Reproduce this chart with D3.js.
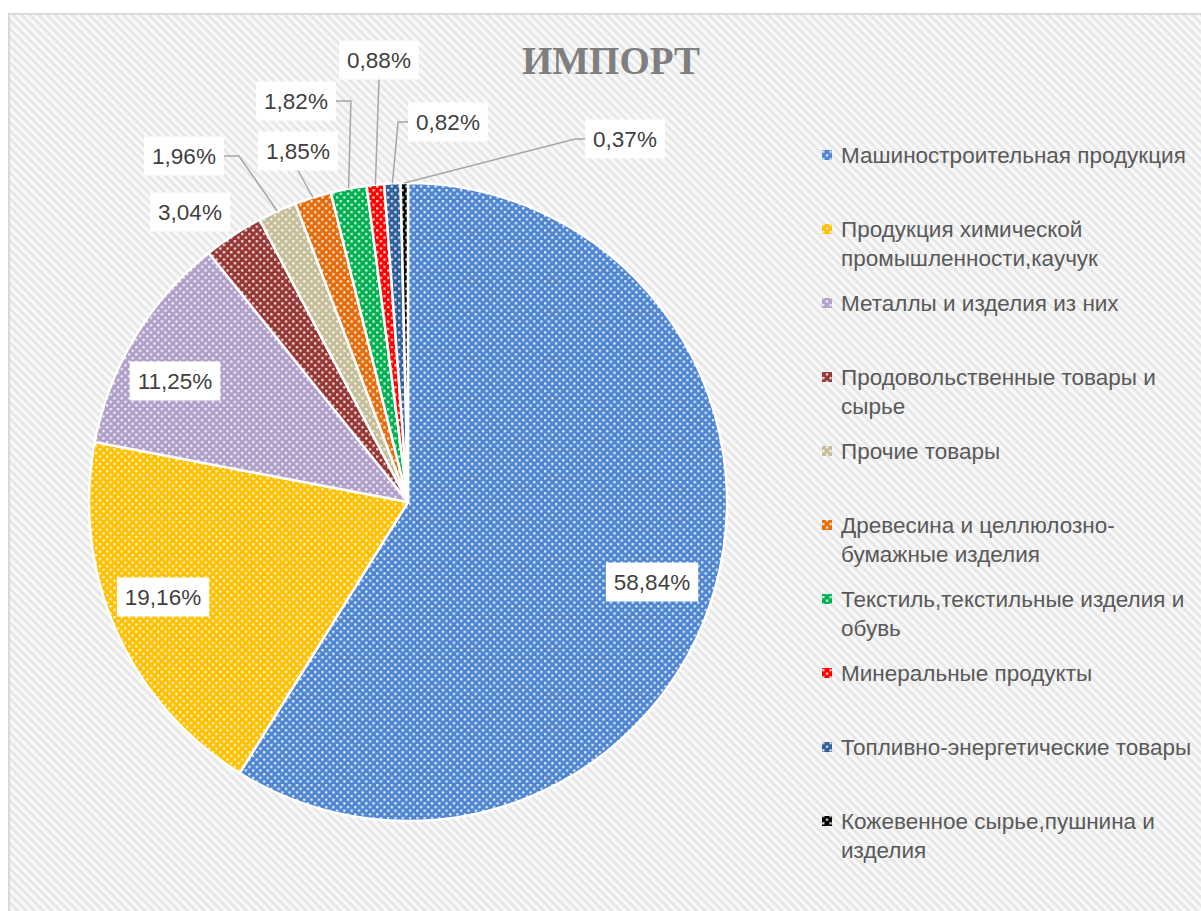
<!DOCTYPE html>
<html><head><meta charset="utf-8">
<script src="https://cdn.jsdelivr.net/npm/d3@7"></script>
<style>html,body{margin:0;padding:0;background:#fff;}svg{display:block;}</style>
</head><body>
<script>
// ---- data ----
const title = "ИМПОРТ";
const categories = [
  "Машиностроительная продукция",
  "Продукция химической промышленности,каучук",
  "Металлы и изделия из них",
  "Продовольственные товары и сырье",
  "Прочие товары",
  "Древесина и целлюлозно-бумажные изделия",
  "Текстиль,текстильные изделия и обувь",
  "Минеральные продукты",
  "Топливно-энергетические товары",
  "Кожевенное сырье,пушнина и изделия"
];
const values = [58.84, 19.16, 11.25, 3.04, 1.96, 1.85, 1.82, 0.88, 0.82, 0.37];
const valueLabels = ["58,84%","19,16%","11,25%","3,04%","1,96%","1,85%","1,82%","0,88%","0,82%","0,37%"];
// legend lines (wrapped as in the reference)
const legendLines = [
  ["Машиностроительная продукция"],
  ["Продукция химической", "промышленности,каучук"],
  ["Металлы и изделия из них"],
  ["Продовольственные товары и", "сырье"],
  ["Прочие товары"],
  ["Древесина и целлюлозно-", "бумажные изделия"],
  ["Текстиль,текстильные изделия и", "обувь"],
  ["Минеральные продукты"],
  ["Топливно-энергетические товары"],
  ["Кожевенное сырье,пушнина и", "изделия"]
];
const colors = ["#4f86d2","#ffc000","#b09fc8","#953735","#c4bd97","#e46c0a","#00b050","#ff0000","#2f5f9a","#000000"];

// ---- layout ----
const W = 1201, H = 911;
const cx = 408, cy = 502, R = 319;
// label box centres relative to pie centre, and leader style
const labelOffsets = [[244,80],[-245,95],[-233,-121],[-218,-290],[-224,-346],[-110,-351],[-112,-401],[-29,-442],[40,-380],[217,-363]];
const leaderStyle = [null,null,null,null,"right","bottom","right","bottom","left","left"];

const svg = d3.select("body").append("svg").attr("width", W).attr("height", H);
const defs = svg.append("defs");

// background stripes
const sp = defs.append("pattern").attr("id","stripes").attr("patternUnits","userSpaceOnUse")
  .attr("width",6).attr("height",6).attr("patternTransform","rotate(45)");
sp.append("rect").attr("width",6).attr("height",6).attr("fill","#f9f9f9");
sp.append("rect").attr("width",6).attr("height",2.6).attr("fill","#e6e6e6");

// dotted fills
colors.forEach((c,i)=>{
  const p = defs.append("pattern").attr("id","dot"+i).attr("patternUnits","userSpaceOnUse")
    .attr("width",7.3).attr("height",7.3);
  p.append("rect").attr("width",7.3).attr("height",7.3).attr("fill",c);
  p.append("rect").attr("x",1).attr("y",1).attr("width",2.2).attr("height",2.2).attr("fill","#fff").attr("opacity",0.9);
  p.append("rect").attr("x",4.65).attr("y",4.65).attr("width",2.2).attr("height",2.2).attr("fill","#fff").attr("opacity",0.9);
});

// frame
svg.append("rect").attr("x",9).attr("y",14).attr("width",W).attr("height",H)
  .attr("fill","url(#stripes)").attr("stroke","#d9d9d9").attr("stroke-width",2);

// title
svg.append("text").attr("x",611).attr("y",74).attr("text-anchor","middle")
  .attr("font-family","'Liberation Serif', serif").attr("font-weight","bold")
  .attr("font-size",41).attr("textLength",178).attr("lengthAdjust","spacingAndGlyphs")
  .attr("fill","#7f7f7f").text(title);

// pie
const pie = d3.pie().sort(null).value(d=>d);
const arcs = pie(values);
const arc = d3.arc().innerRadius(0).outerRadius(R);
const g = svg.append("g").attr("transform",`translate(${cx},${cy})`);
g.selectAll("path.slice").data(arcs).join("path").attr("class","slice")
  .attr("d",arc).attr("fill",(d,i)=>`url(#dot${i})`)
  .attr("stroke","#fff").attr("stroke-width",2.5).attr("stroke-linejoin","round");

// labels
const fontLab = "'Liberation Sans', Arial, sans-serif";
const lab = g.selectAll("g.lab").data(arcs).join("g").attr("class","lab");
lab.each(function(d,i){
  const sel = d3.select(this);
  const [ox,oy] = labelOffsets[i];
  const t = sel.append("text").attr("x",ox).attr("y",oy).attr("dy","0.36em")
    .attr("text-anchor","middle").attr("font-family",fontLab).attr("font-size",22.5)
    .attr("fill","#404040").text(valueLabels[i]);
  const tw = t.node().getComputedTextLength();
  const bw = tw + 16, bh = 39;
  sel.insert("rect","text").attr("x",ox-bw/2).attr("y",oy-bh/2).attr("width",bw).attr("height",bh).attr("fill","#fff");
  const st = leaderStyle[i];
  if(st){
    const a = (d.startAngle+d.endAngle)/2;
    const px = R*Math.sin(a), py = -R*Math.cos(a);
    let pts;
    if(st==="right") pts=[[ox+bw/2,oy],[ox+bw/2+15,oy],[px,py]];
    else if(st==="left") pts=[[ox-bw/2,oy],[ox-bw/2-10,oy],[px,py]];
    else pts=[[ox,oy+bh/2],[ox,oy+bh/2],[px,py]];
    sel.append("path").attr("d",d3.line()(pts)).attr("fill","none").attr("stroke","#a6a6a6").attr("stroke-width",1.5);
  }
});

// legend
const lg = svg.append("g");
const legX = 822, legY0 = 155, legStep = 74, lineH = 29;
legendLines.forEach((lines,i)=>{
  const y = legY0 + i*legStep;
  lg.append("rect").attr("x",legX).attr("y",y-5).attr("width",10).attr("height",10).attr("fill",`url(#dot${i})`);
  const t = lg.append("text").attr("font-family",fontLab).attr("font-size",22.5).attr("fill","#595959");
  lines.forEach((ln,j)=>{
    t.append("tspan").attr("x",841).attr("y",y+j*lineH).attr("dy","0.36em").text(ln);
  });
});
</script>
</body></html>
